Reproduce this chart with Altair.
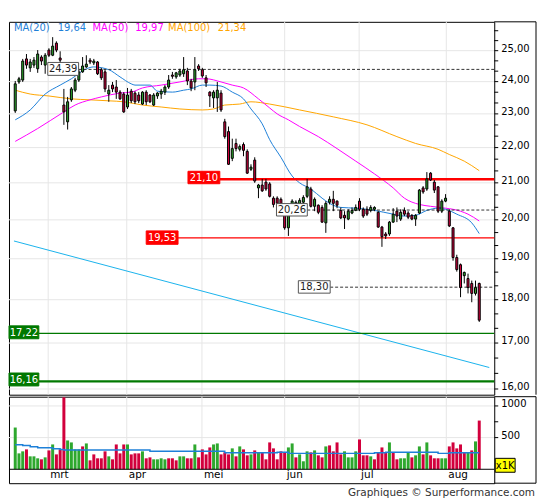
import altair as alt
import pandas as pd

# ---------------- data ----------------
opens = [23.09, 23.99, 24.05, 24.73, 24.44, 24.53, 24.41, 24.79, 24.53, 25.02,
         24.85, 25.25, 24.76, 23.27, 22.76, 23.43, 23.73, 24.05, 24.31, 24.47,
         24.69, 24.60, 24.63, 24.38, 24.31, 23.61, 23.89, 23.83, 23.67, 23.61,
         23.21, 23.70, 23.64, 23.58, 23.30, 23.67, 23.58, 23.27, 23.55, 23.61,
         23.67, 23.83, 24.21, 24.15, 24.21, 24.25, 24.34, 24.02, 23.99, 24.50,
         24.38, 24.12, 23.67, 23.49, 23.49, 23.64, 22.76, 22.47, 21.69, 22.12,
         21.95, 22.09, 21.89, 21.38, 21.64, 20.86, 20.94, 21.02, 20.97, 20.58,
         20.58, 20.55, 20.28, 19.79, 20.39, 20.33, 20.41, 20.47, 20.63, 20.83,
         20.36, 20.39, 20.33, 19.92, 20.47, 20.55, 20.50, 20.25, 20.12, 20.02,
         20.18, 20.25, 20.50, 20.28, 20.28, 20.25, 20.28, 20.20, 19.81, 19.63,
         19.63, 19.94, 20.23, 20.02, 20.25, 20.18, 20.12, 20.02, 20.18, 20.86,
         20.83, 21.27, 21.02, 20.89, 20.23, 20.50, 20.23, 19.79, 19.03, 18.85,
         18.58, 18.51, 18.39, 18.15, 18.39]
highs = [24.02, 24.15, 24.73, 24.89, 24.73, 24.79, 25.02, 24.85, 24.92, 25.08,
         25.45, 25.31, 24.98, 23.77, 23.52, 23.83, 24.12, 24.38, 24.79, 24.85,
         24.76, 24.73, 24.66, 24.44, 24.38, 23.89, 23.99, 24.05, 23.73, 23.67,
         23.80, 23.77, 23.70, 23.67, 23.70, 23.73, 23.61, 23.64, 23.67, 23.77,
         23.89, 24.21, 24.31, 24.31, 24.41, 24.79, 24.44, 24.09, 24.79, 24.56,
         24.44, 24.21, 23.70, 23.73, 23.99, 23.73, 22.85, 22.62, 22.26, 22.26,
         22.09, 22.15, 21.95, 21.52, 21.72, 20.97, 21.11, 21.11, 21.02, 20.63,
         20.63, 20.60, 20.36, 20.23, 20.55, 20.52, 20.58, 20.66, 21.11, 20.89,
         20.60, 20.41, 20.39, 20.50, 20.63, 20.78, 20.52, 20.33, 20.23, 20.28,
         20.33, 20.41, 20.58, 20.33, 20.36, 20.39, 20.36, 20.23, 19.84, 19.68,
         19.97, 20.31, 20.33, 20.28, 20.33, 20.23, 20.15, 20.15, 20.83, 20.91,
         21.30, 21.30, 21.08, 20.91, 20.55, 20.69, 20.28, 19.81, 19.10, 18.88,
         18.68, 18.63, 18.46, 18.46, 18.41]
lows = [23.03, 23.93, 23.99, 24.41, 24.31, 24.44, 24.28, 24.53, 24.25, 24.79,
        24.82, 24.95, 24.31, 22.67, 22.53, 23.37, 23.67, 23.99, 24.28, 24.44,
        24.56, 24.53, 24.21, 24.05, 23.67, 23.37, 23.67, 23.46, 23.43, 23.03,
        23.15, 23.33, 23.30, 23.33, 23.27, 23.27, 23.33, 23.24, 23.46, 23.46,
        23.58, 23.77, 24.09, 24.09, 24.15, 24.15, 23.89, 23.70, 23.73, 24.34,
        24.12, 23.83, 23.21, 23.18, 23.06, 23.06, 22.26, 21.50, 21.61, 21.89,
        21.89, 21.75, 21.25, 21.33, 21.00, 20.58, 20.75, 20.78, 20.60, 20.33,
        20.36, 20.31, 19.74, 19.58, 20.31, 20.28, 20.36, 20.41, 20.58, 20.33,
        20.23, 20.15, 19.92, 19.66, 20.41, 20.23, 20.31, 20.02, 19.76, 19.99,
        20.15, 20.23, 20.23, 20.05, 20.10, 20.20, 20.23, 19.79, 19.30, 19.50,
        19.58, 19.92, 19.94, 19.97, 20.10, 20.02, 19.99, 19.84, 20.15, 20.70,
        20.78, 21.05, 20.72, 20.18, 20.18, 20.47, 19.81, 18.95, 18.68, 18.06,
        18.39, 18.15, 17.94, 18.10, 17.48]
closes = [23.93, 24.09, 24.66, 24.53, 24.63, 24.69, 24.89, 24.66, 24.85, 24.85,
          25.15, 25.02, 24.69, 23.06, 23.37, 23.77, 24.05, 24.31, 24.50, 24.56,
          24.63, 24.66, 24.25, 24.12, 23.77, 23.73, 23.77, 23.67, 23.46, 23.06,
          23.58, 23.40, 23.37, 23.40, 23.67, 23.37, 23.37, 23.58, 23.64, 23.70,
          23.83, 24.05, 24.17, 24.28, 24.34, 24.38, 24.02, 23.80, 24.38, 24.41,
          24.18, 23.96, 23.55, 23.67, 23.73, 23.12, 22.32, 21.52, 21.97, 21.97,
          22.03, 21.92, 21.27, 21.44, 21.05, 20.94, 20.78, 20.83, 20.63, 20.41,
          20.44, 20.39, 19.79, 20.12, 20.50, 20.47, 20.52, 20.60, 20.89, 20.36,
          20.55, 20.20, 19.94, 20.44, 20.55, 20.44, 20.39, 20.05, 20.05, 20.23,
          20.25, 20.33, 20.28, 20.10, 20.15, 20.33, 20.33, 19.81, 19.56, 19.58,
          19.94, 20.15, 20.10, 20.20, 20.15, 20.07, 20.02, 20.12, 20.80, 20.75,
          21.11, 21.08, 20.80, 20.23, 20.50, 20.58, 19.84, 19.03, 18.73, 18.29,
          18.66, 18.29, 18.15, 18.29, 17.52]
volumes = [659, 251, 283, 314, 204, 204, 173, 157, 188, 298,
           392, 235, 314, 1136, 455, 424, 314, 314, 361, 408,
           141, 235, 173, 173, 283, 204, 157, 392, 251, 392,
           392, 235, 251, 251, 283, 173, 188, 157, 157, 173,
           157, 173, 173, 141, 204, 204, 173, 173, 392, 188,
           314, 235, 345, 392, 408, 235, 267, 235, 330, 204,
           361, 314, 220, 235, 298, 267, 267, 157, 424, 330,
           157, 283, 267, 345, 408, 188, 235, 126, 283, 267,
           298, 220, 188, 361, 377, 283, 424, 235, 283, 188,
           188, 283, 471, 220, 220, 204, 157, 267, 345, 267,
           424, 267, 157, 173, 173, 267, 188, 220, 361, 235,
           424, 220, 173, 173, 173, 173, 361, 424, 330, 392,
           267, 267, 298, 440, 769]
vol_colors = list("GGGRGGGRGR" "GRRRGGGGRG" "RRRRRGRRRR" "GRRRGRRGGG"
                  "GRRRGGRRGR" "RRRGGRRRGR" "GRRGRGRRRR" "RRRGGRGGGR"
                  "GRRGRRRRGG" "GGRRRGRRRR" "GRRGGGRGGR" "GRRRGGRRRR" "RGRGR")
# volume average (step line): bar index where each step starts, and its level
vavg_i = [0, 2, 4, 6, 10, 12, 13, 36, 56, 70, 73, 96, 99, 113, 116, 124]
vavg_v = [387, 377, 356, 340, 324, 314, 304, 283, 262, 267, 251, 262, 267, 251, 262, 262]

ma20_i = [0, 4, 8, 12, 15, 19, 21, 25, 28, 31, 32, 36, 38, 42, 45, 47, 50, 52, 55, 58, 61,
          63, 66, 68, 71, 74, 76, 79, 82, 84, 87, 91, 96, 101, 104, 107, 110, 113, 115, 118, 122, 124]
ma20_v = [22.82, 23.12, 23.61, 23.89, 24.09, 24.41, 24.47, 24.38, 24.15, 23.93, 23.89, 23.89,
          23.70, 23.67, 23.73, 23.77, 23.89, 23.89, 23.86, 23.67, 23.46, 23.15, 22.70, 22.23,
          21.72, 21.19, 21.00, 20.83, 20.58, 20.44, 20.33, 20.31, 20.25, 20.15, 20.10, 20.12,
          20.25, 20.31, 20.28, 20.15, 19.92, 19.64]
ma50_i = [0, 6, 13, 16, 20, 23, 28, 31, 34, 39, 44, 49, 51, 55, 58, 61, 65, 68, 70, 73, 76,
          81, 86, 91, 96, 101, 104, 108, 111, 115, 117, 121, 124]
ma50_v = [22.18, 22.56, 23.06, 23.27, 23.43, 23.52, 23.64, 23.67, 23.80, 23.89, 23.99, 24.09,
          24.09, 23.99, 23.89, 23.80, 23.46, 23.18, 23.00, 22.82, 22.62, 22.32, 21.97, 21.61,
          21.25, 20.86, 20.58, 20.41, 20.36, 20.31, 20.28, 20.15, 19.97]
ma100_i = [0, 4, 9, 15, 20, 25, 29, 34, 39, 44, 50, 53, 56, 60, 63, 68, 76, 85, 94, 102,
           107, 113, 116, 120, 124]
ma100_v = [23.73, 23.61, 23.55, 23.46, 23.43, 23.40, 23.37, 23.27, 23.21, 23.15, 23.12, 23.15,
           23.27, 23.30, 23.37, 23.30, 23.12, 22.91, 22.67, 22.32, 22.12, 21.95, 21.80, 21.61, 21.34]

trend_i = [-0.34, 126.68]
trend_v = [19.45, 16.46]

month_names = ["mrt", "apr", "mei", "jun", "jul", "aug"]
month_pos = [8.8, 29.8, 49.9, 72.0, 91.9, 115.2]
price_ticks = [16, 17, 18, 19, 20, 21, 22, 23, 24, 25]
vol_ticks = [500, 750, 1000]
vol_labels = [500, 1000]

level_prices = [24.39, 21.10, 20.26, 19.53, 18.30, 17.22, 16.16]
level_kinds = ["pivot", "resist", "pivot", "resist", "pivot", "support", "support"]

# ---------------- styling ----------------
W, H, VH = 488, 375, 87
FONT = "DejaVu Sans"
GRID = "#e6e6e6"
C_MA20, C_MA50, C_MA100 = "#1e80d8", "#ff00ff", "#ffa500"
C_UP, C_DN = "#2ea82e", "#d2003c"
V_UP, V_DN = "#3cbe3c", "#d8004a"

xs = alt.Scale(domain=[-0.34, 126.68], nice=False, zero=False)
ys = alt.Scale(type="log", domain=[15.88, 25.97], nice=False, zero=False)
vs = alt.Scale(domain=[-220, 1146], nice=False, zero=False)


def X(f):
    return alt.X(f, scale=xs, axis=None)


def Y(f):
    return alt.Y(f, scale=ys, axis=None)


def V(f):
    return alt.Y(f, scale=vs, axis=None)


def fmt(v):
    return f"{v:.2f}".replace(".", ",")


one = pd.DataFrame({"a": [0]})

# ---- price axis on the right (ticks every third, labels on integers) ----
minor_ticks = [t + f for t in price_ticks for f in (0, 1 / 3, 2 / 3)]
yticks = alt.Chart(pd.DataFrame({"v": minor_ticks})).mark_rule(
    color="black", strokeWidth=1).encode(x=alt.value(W), x2=alt.value(W + 4), y=Y("v:Q"))
ylabels = alt.Chart(pd.DataFrame({"v": price_ticks, "t": [fmt(v) for v in price_ticks]})).mark_text(
    align="left", baseline="middle", fontSize=10, font=FONT, color="black", dy=-2).encode(
    x=alt.value(W + 7), y=Y("v:Q"), text="t:N")

hgrid = alt.Chart(pd.DataFrame({"v": price_ticks})).mark_rule(
    color=GRID, strokeWidth=1).encode(y=Y("v:Q"))
months = pd.DataFrame({"p": month_pos, "m": month_names})
vgrid = alt.Chart(months).mark_rule(color=GRID, strokeWidth=1).encode(x=X("p:Q"))

trend = alt.Chart(pd.DataFrame({"i": trend_i, "v": trend_v})).mark_line(
    color="#1ab2ec", strokeWidth=1).encode(x=X("i:Q"), y=Y("v:Q"))


def ma_line(ii, vv, color):
    return alt.Chart(pd.DataFrame({"i": ii, "v": vv})).mark_line(
        color=color, strokeWidth=1, interpolate="monotone").encode(x=X("i:Q"), y=Y("v:Q"))


ma100 = ma_line(ma100_i, ma100_v, C_MA100)
ma50 = ma_line(ma50_i, ma50_v, C_MA50)
ma20 = ma_line(ma20_i, ma20_v, C_MA20)

# label boxes / lines for the horizontal levels (pixel layout per level)
level_layout = {
    24.39: dict(x0=39, x1=70, top=-7, bot=6),
    21.10: dict(x0=180, x1=212, top=-8, bot=4.5),
    20.26: dict(x0=269, x1=300, top=-6.5, bot=6),
    19.53: dict(x0=138, x1=170, top=-7, bot=6.5),
    18.30: dict(x0=291, x1=323, top=-6.5, bot=6),
    17.22: dict(x0=0, x1=30, top=-7.5, bot=5.5),
    16.16: dict(x0=0, x1=30, top=-8.5, bot=4.5),
}
kind_style = {
    "pivot": dict(line="#333333", dash=[3, 2], fill="white", stroke="#555555", text="#222222"),
    "resist": dict(line="#ff0000", dash=None, fill="#ff0000", stroke="#ff0000", text="white"),
    "support": dict(line="#007800", dash=None, fill="#007800", stroke="#007800", text="white"),
}
line_width = {24.39: 1, 21.10: 2.6, 20.26: 1, 19.53: 1.4, 18.30: 1, 17.22: 1.2, 16.16: 2.2}

level_lines, level_boxes = [], []
for p, k in zip(level_prices, level_kinds):
    lay, st = level_layout[p], kind_style[k]
    d = pd.DataFrame({"v": [p], "t": [fmt(p)]})
    base = alt.Chart(d)
    lkw = dict(color=st["line"], strokeWidth=line_width[p])
    if st["dash"]:
        lkw["strokeDash"] = st["dash"]
    level_lines.append(base.mark_rule(**lkw).encode(
        x=alt.value(lay["x1"]), x2=alt.value(W), y=Y("v:Q")))
    level_boxes.append(base.mark_rect(
        fill=st["fill"], stroke=st["stroke"], strokeWidth=1,
        yOffset=lay["top"], y2Offset=lay["bot"]).encode(
        x=alt.value(lay["x0"]), x2=alt.value(lay["x1"]), y=Y("v:Q"), y2="v:Q"))
    level_boxes.append(base.mark_text(
        color=st["text"], fontSize=10, font=FONT, dy=(lay["top"] + lay["bot"]) / 2 + 0.5).encode(
        x=alt.value((lay["x0"] + lay["x1"]) / 2), y=Y("v:Q"), text="t:N"))

cd = pd.DataFrame({"i": list(range(len(opens))), "o": opens, "h": highs, "l": lows, "c": closes})
cd["dir"] = ["up" if c >= o else "down" for o, c in zip(opens, closes)]
wicks = alt.Chart(cd).mark_rule(color="black", strokeWidth=1).encode(
    x=X("i:Q"), y=Y("l:Q"), y2="h:Q")
bodies = alt.Chart(cd).mark_bar(width=2, stroke="black", strokeWidth=1).encode(
    x=X("i:Q"), y=Y("o:Q"), y2="c:Q",
    color=alt.Color("dir:N", scale=alt.Scale(domain=["up", "down"], range=[C_UP, C_DN]), legend=None))

legend_items = [("MA(20)", 5, C_MA20), (fmt(ma20_v[-1]), 49, C_MA20),
                ("MA(50)", 84, C_MA50), (fmt(ma50_v[-1]), 127, C_MA50),
                ("MA(100)", 160, C_MA100), (fmt(ma100_v[-1]), 210, C_MA100)]
legend_texts = [alt.Chart(one).mark_text(align="left", baseline="middle", fontSize=10,
                                         font=FONT, color=col).encode(
    x=alt.value(px), y=alt.value(6.5), text=alt.value(t)) for t, px, col in legend_items]

frame_main = [
    alt.Chart(one).mark_rule(color="black").encode(x=alt.value(W), x2=alt.value(W + 42), y=alt.value(0)),
    alt.Chart(one).mark_rule(color="black").encode(x=alt.value(W + 42), y=alt.value(0), y2=alt.value(H)),
]

main = alt.layer(hgrid, vgrid, trend, ma100, ma50, ma20, *level_lines, wicks, bodies,
                 *level_boxes, *legend_texts, yticks, ylabels, *frame_main).properties(width=W, height=H)

# ---------------- volume panel ----------------
vticks = alt.Chart(pd.DataFrame({"v": vol_ticks})).mark_rule(color="black").encode(
    x=alt.value(W), x2=alt.value(W + 4), y=V("v:Q"))
vlabels = alt.Chart(pd.DataFrame({"v": vol_labels, "t": [str(v) for v in vol_labels]})).mark_text(
    align="left", baseline="middle", fontSize=10, font=FONT, color="black", dy=-2).encode(
    x=alt.value(W + 7), y=V("v:Q"), text="t:N")
vhgrid = alt.Chart(pd.DataFrame({"v": vol_labels})).mark_rule(color=GRID).encode(y=V("v:Q"))
vvgrid = alt.Chart(months).mark_rule(color=GRID).encode(
    x=X("p:Q"), y=alt.value(0), y2=alt.value(73))
vd = pd.DataFrame({"i": list(range(len(volumes))), "vol": volumes,
                   "dir": ["up" if c == "G" else "down" for c in vol_colors]})
vbars = alt.Chart(vd).mark_bar(width=3).encode(
    x=X("i:Q"), y=V("vol:Q"),
    color=alt.Color("dir:N", scale=alt.Scale(domain=["up", "down"], range=[V_UP, V_DN]), legend=None))
vavg = alt.Chart(pd.DataFrame({"i": vavg_i, "v": vavg_v})).mark_line(
    interpolate="step-after", color=C_MA20, strokeWidth=1.5).encode(x=X("i:Q"), y=V("v:Q"))
vbase = alt.Chart(pd.DataFrame({"z": [0]})).mark_rule(color="black").encode(y=V("z:Q"))
mlabels = alt.Chart(months).mark_text(align="left", baseline="middle", dx=2, fontSize=10.5,
                                      font=FONT, color="black").encode(
    x=X("p:Q"), y=alt.value(79), text="m:N")
kbox = alt.Chart(one).mark_rect(fill="#ffff00", stroke="black", strokeWidth=1).encode(
    x=alt.value(489), x2=alt.value(509), y=alt.value(62), y2=alt.value(76))
ktext = alt.Chart(one).mark_text(fontSize=10, font=FONT, color="black").encode(
    x=alt.value(499), y=alt.value(69.5), text=alt.value("x1K"))
credit = alt.Chart(one).mark_text(align="right", baseline="middle", fontSize=10.5, font=FONT,
                                  color="#333333").encode(
    x=alt.value(529), y=alt.value(97), text=alt.value("Graphiques \u00a9 Surperformance.com"))
frame_vol = [
    alt.Chart(one).mark_rule(color="black").encode(x=alt.value(W), x2=alt.value(W + 42), y=alt.value(0)),
    alt.Chart(one).mark_rule(color="black").encode(x=alt.value(W), x2=alt.value(W + 42), y=alt.value(VH)),
    alt.Chart(one).mark_rule(color="black").encode(x=alt.value(W + 42), y=alt.value(0), y2=alt.value(VH)),
]

vol = alt.layer(vhgrid, vvgrid, vbars, vavg, vbase, mlabels, kbox, ktext, credit,
                vticks, vlabels, *frame_vol).properties(width=W, height=VH)

chart = alt.vconcat(main, vol, spacing=0).resolve_scale(
    x="independent", y="independent").properties(
    padding={"left": 0, "top": 11.5, "right": 0, "bottom": 0}).configure_view(
    stroke="black", strokeWidth=1).configure_text(font=FONT)

chart.save("out.html", embed_options={"renderer": "svg", "actions": False})
